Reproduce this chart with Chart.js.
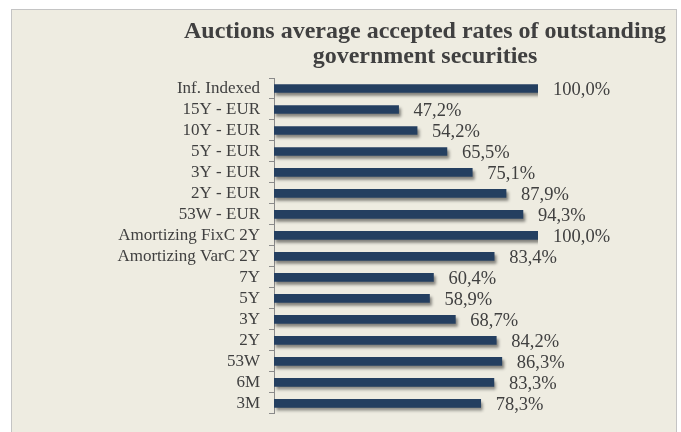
<!DOCTYPE html>
<html>
<head>
<meta charset="utf-8">
<script src="https://cdn.jsdelivr.net/npm/chart.js@4"></script>
<style>
    html, body { margin: 0; padding: 0; background: #ffffff; }
    #panel {
        position: absolute;
        left: 11px;
        top: 9px;
        width: 664px;
        height: 423px;
        background: #eeece1;
        border-top: 1px solid #c4c4c4;
        border-left: 1px solid #c4c4c4;
        border-right: 1px solid #c4c4c4;
    }
</style>
</head>
<body>
<div id="panel"><canvas id="ratesChart" width="664" height="423"></canvas></div>
<script>
// Categories (top to bottom)
const categories = [
    'Inf. Indexed', '15Y - EUR', '10Y - EUR', '5Y - EUR', '3Y - EUR', '2Y - EUR',
    '53W - EUR', 'Amortizing FixC 2Y', 'Amortizing VarC 2Y', '7Y', '5Y', '3Y',
    '2Y', '53W', '6M', '3M'
];
// Average accepted rates (%)
const rates = [100.0, 47.2, 54.2, 65.5, 75.1, 87.9, 94.3, 100.0, 83.4, 60.4, 58.9, 68.7, 84.2, 86.3, 83.3, 78.3];
const titleLines = ['Auctions average accepted rates of outstanding', 'government securities'];

const textColor = '#404040';
const serif = "'Liberation Serif', 'Times New Roman', serif";

// Title drawn by hand so it can sit off-centre like the original
const titlePlugin = {
    id: 'customTitle',
    afterDraw(chart) {
        const ctx = chart.ctx;
        ctx.save();
        ctx.fillStyle = textColor;
        ctx.font = 'bold 24px ' + serif;
        ctx.textAlign = 'center';
        ctx.textBaseline = 'alphabetic';
        titleLines.forEach((line, i) => {
            ctx.fillText(line, 413, 28 + i * 25);
        });
        ctx.restore();
    }
};

// Drop shadow under the bars
const shadowPlugin = {
    id: 'barShadow',
    beforeDatasetDraw(chart) {
        const ctx = chart.ctx;
        ctx.save();
        ctx.shadowColor = 'rgba(0,0,0,0.45)';
        ctx.shadowOffsetX = 2;
        ctx.shadowOffsetY = 3;
        ctx.shadowBlur = 3;
    },
    afterDatasetDraw(chart) {
        chart.ctx.restore();
    }
};

// Value labels to the right of each bar
const valueLabels = {
    id: 'valueLabels',
    afterDatasetsDraw(chart) {
        const ctx = chart.ctx;
        const meta = chart.getDatasetMeta(0);
        ctx.save();
        ctx.fillStyle = textColor;
        ctx.font = '18.5px ' + serif;
        ctx.textAlign = 'left';
        ctx.textBaseline = 'middle';
        chart.data.datasets[0].data.forEach((value, index) => {
            const bar = meta.data[index];
            const text = value.toFixed(1).replace('.', ',') + '%';
            ctx.fillText(text, bar.x + 15, bar.y + 2);
        });
        ctx.restore();
    }
};

new Chart(document.getElementById('ratesChart'), {
    type: 'bar',
    data: {
        labels: categories,
        datasets: [{
            data: rates,
            backgroundColor: '#243f60',
            borderWidth: 0,
            barThickness: 8
        }]
    },
    options: {
        indexAxis: 'y',
        responsive: false,
        animation: false,
        layout: {
            padding: { top: 68, right: 138, bottom: 17, left: 0 }
        },
        plugins: {
            legend: { display: false },
            title: { display: false },
            tooltip: { enabled: false }
        },
        scales: {
            x: {
                display: false,
                min: 0,
                max: 100
            },
            y: {
                afterFit(scale) { scale.width = 262; },
                border: { display: true, color: '#8a8a8a', width: 1 },
                grid: {
                    display: true,
                    drawOnChartArea: false,
                    drawTicks: true,
                    tickLength: 5,
                    offset: true,
                    color: '#8a8a8a'
                },
                ticks: {
                    autoSkip: false,
                    color: textColor,
                    padding: 9,
                    font: { family: serif, size: 17 }
                }
            }
        }
    },
    plugins: [titlePlugin, shadowPlugin, valueLabels]
});
</script>
</body>
</html>
